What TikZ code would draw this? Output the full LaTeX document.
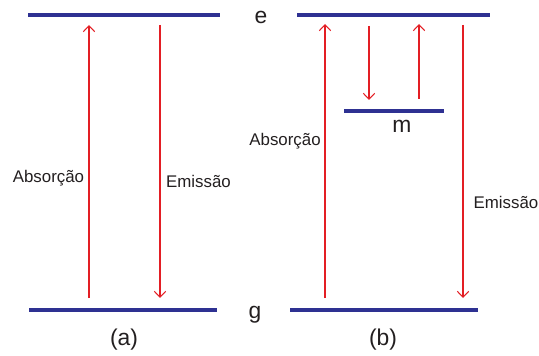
\documentclass[tikz,border=0pt]{standalone}
\usepackage{fontspec}
\setmainfont{Liberation Sans}
\usepackage{tikz}
\usetikzlibrary{arrows.meta}

\definecolor{levelblue}{RGB}{46,49,146}
\definecolor{transred}{RGB}{227,30,36}
\definecolor{textgray}{RGB}{35,31,32}

\begin{document}
\begin{tikzpicture}[
        level/.style={levelblue, line width=2pt},
        trans/.style={transred, line width=0.6pt, -{Straight Barb[length=3.4pt,width=6.5pt]}},
        small/.style={textgray, font=\fontsize{9.6}{11}\selectfont},
        big/.style={textgray, font=\fontsize{13}{15}\selectfont}
    ]
            \useasboundingbox (0,0) rectangle (10.78,7.10);

            % (a)
            \coordinate (eA1) at (0.56,6.80);
            \coordinate (eA2) at (4.40,6.80);
            \coordinate (gA1) at (0.58,0.90);
            \coordinate (gA2) at (4.33,0.90);

            \coordinate (absA0) at (1.78,1.14);
            \coordinate (absA1) at (1.78,6.60);
            \coordinate (emA0) at (3.20,6.60);
            \coordinate (emA1) at (3.20,1.14);

            % (b)
            \coordinate (eB1) at (5.94,6.80);
            \coordinate (eB2) at (9.80,6.80);
            \coordinate (gB1) at (5.80,0.90);
            \coordinate (gB2) at (9.56,0.90);
            \coordinate (mB1) at (6.88,4.88);
            \coordinate (mB2) at (8.88,4.88);

            \coordinate (absB0) at (6.50,1.14);
            \coordinate (absB1) at (6.50,6.62);
            \coordinate (emB0) at (9.26,6.60);
            \coordinate (emB1) at (9.26,1.14);
            \coordinate (downB0) at (7.38,6.58);
            \coordinate (downB1) at (7.38,5.10);
            \coordinate (upB0) at (8.38,5.12);
            \coordinate (upB1) at (8.38,6.62);

            \draw[level] (eA1)--(eA2);
            \draw[level] (gA1)--(gA2);
            \draw[level] (eB1)--(eB2);
            \draw[level] (gB1)--(gB2);
            \draw[level] (mB1)--(mB2);

            \draw[trans] (absA0)--(absA1);
            \draw[trans] (emA0)--(emA1);
            \draw[trans] (absB0)--(absB1);
            \draw[trans] (emB0)--(emB1);
            \draw[trans] (downB0)--(downB1);
            \draw[trans] (upB0)--(upB1);

            \node[big, anchor=base] (e) at (5.22,6.62) {e};
            \node[big, anchor=base] (g) at (5.10,0.74) {g};
            \node[big, anchor=base] (m) at (8.04,4.44) {m};
            \node[big, anchor=base] (labA) at (2.48,0.20) {(a)};
            \node[big, anchor=base] (labB) at (7.66,0.20) {(b)};

            \node[small, anchor=base] (absA) at (0.97,3.46) {Absorção};
            \node[small, anchor=base] (emA) at (3.97,3.36) {Emissão};
            \node[small, anchor=base] (absB) at (5.70,4.20) {Absorção};
            \node[small, anchor=base] (emB) at (10.12,2.94) {Emissão};
        \end{tikzpicture}
\end{document}
